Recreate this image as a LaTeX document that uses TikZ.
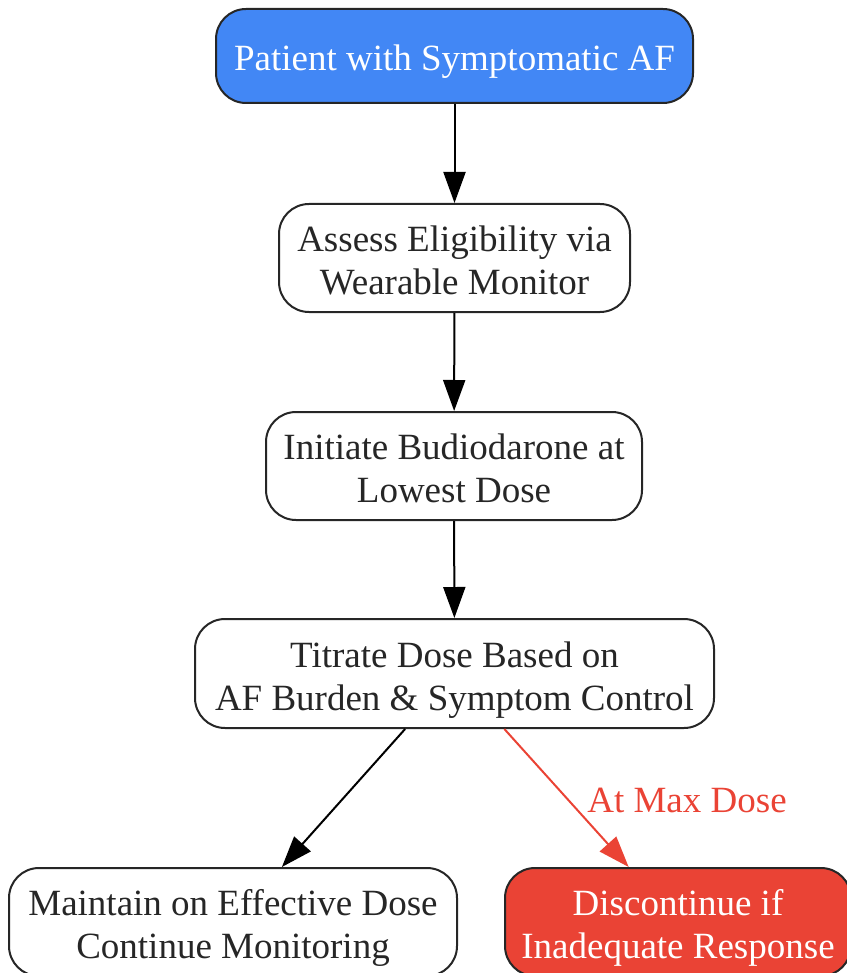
\documentclass[tikz,border=0pt]{standalone}
\usepackage{fontspec}
\setmainfont{Liberation Serif}
\usetikzlibrary{arrows.meta}
\definecolor{gblue}{HTML}{4287F5}
\definecolor{gred}{HTML}{EA4335}
\definecolor{txt}{HTML}{262626}
\definecolor{bord}{HTML}{262626}
\newcommand{\Tst}{\rule{0pt}{38pt}}
\newcommand{\Bst}{\rule[-8pt]{0pt}{8pt}}
\tikzset{
  box/.style={draw=bord, line width=2pt, rounded corners=30pt, align=center,
    inner sep=0pt, font=\fontsize{37}{43}\selectfont, text=txt, fill=white},
  startbox/.style={box, fill=gblue, text=white},
  stopbox/.style={box, fill=gred, text=white},
  link/.style={line width=2pt, -{Triangle[length=31pt,width=22pt]}},
  redlink/.style={link, draw=gred, -{Triangle[length=31pt,width=22pt,fill=gred]}},
  lbl/.style={font=\fontsize{37}{43}\selectfont, text=gred, inner sep=0pt}
}
\begin{document}
\begin{tikzpicture}[x=1pt,y=1pt]
\useasboundingbox (0,0) rectangle (846,-973);
\node[startbox, minimum width=477pt, minimum height=94pt] (n1) at (454.5,-56) {\Tst Patient with Symptomatic AF\Bst};
\node[box, minimum width=351pt, minimum height=108pt] (n2) at (454.5,-258) {\Tst Assess Eligibility via\\Wearable Monitor\Bst};
\node[box, minimum width=376pt, minimum height=108pt] (n3) at (454,-466) {\Tst Initiate Budiodarone at\\Lowest Dose\Bst};
\node[box, minimum width=519pt, minimum height=109pt] (n4) at (454.5,-673.5) {\Tst Titrate Dose Based on\\AF Burden \& Symptom Control\Bst};
\node[box, minimum width=448pt, minimum height=108pt] (n5) at (233,-922) {\Tst Maintain on Effective Dose\\Continue Monitoring\Bst};
\node[stopbox, minimum width=346pt, minimum height=108pt] (n6) at (678,-922) {\Tst Discontinue if\\Inadequate Response\Bst};
\draw[link] (n1) -- (n2);
\draw[link] (n2) -- (n3);
\draw[link] (n3) -- (n4);
\draw[link] (n4) -- (n5);
\draw[redlink] (n4) -- (n6);
\node[lbl] (l1) at (687,-800) {At Max Dose};
\end{tikzpicture}
\end{document}
